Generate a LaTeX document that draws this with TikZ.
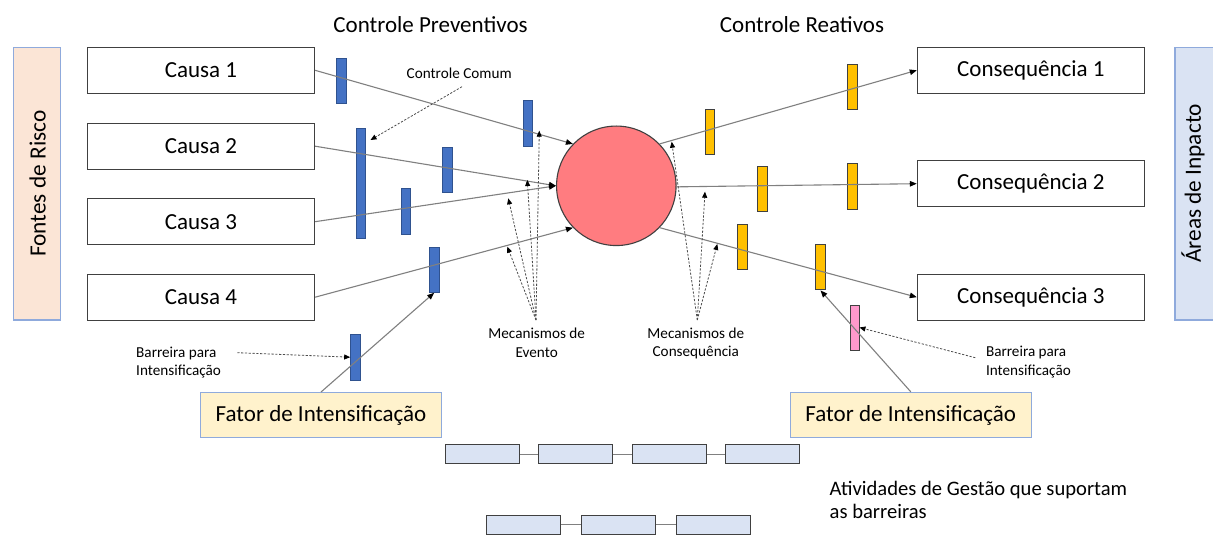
\documentclass[tikz,border=0pt]{standalone}
\usepackage{fontspec}
\setmainfont{Carlito}
\usetikzlibrary{arrows.meta,shapes.geometric}

\definecolor{boxline}{HTML}{404040}
\definecolor{conn}{HTML}{808080}
\definecolor{barblue}{HTML}{4472C4}
\definecolor{barblueline}{HTML}{2F528F}
\definecolor{baryellow}{HTML}{FFC000}
\definecolor{barpink}{HTML}{FF99CC}
\definecolor{eventred}{HTML}{FF7C80}
\definecolor{peach}{HTML}{FBE5D6}
\definecolor{paleblue}{HTML}{DAE3F3}
\definecolor{frameblue}{HTML}{8FAADC}
\definecolor{cream}{HTML}{FFF2CC}

\tikzset{
  fbox/.style={draw=boxline, line width=1.2pt, fill=white, minimum width=227pt,
    minimum height=46pt, inner sep=0pt, font=\fontsize{23}{27}\selectfont},
  bar/.style={rectangle, draw=#1line, line width=0.9pt, inner sep=0pt,
    minimum width=9.5pt, minimum height=45.5pt},
  bluebar/.style={bar=barblue, fill=barblue},
  yellowbar/.style={rectangle, draw=boxline, line width=0.9pt, inner sep=0pt,
    minimum width=9.5pt, minimum height=45.5pt, fill=baryellow},
  pinkbar/.style={rectangle, draw=boxline, line width=0.9pt, inner sep=0pt,
    minimum width=9pt, minimum height=45pt, fill=barpink},
  sidebox/.style={draw=frameblue, line width=1.1pt, inner sep=0pt},
  factor/.style={draw=frameblue, line width=1.1pt, fill=cream, inner sep=0pt,
    minimum width=240.7pt, minimum height=45.2pt, font=\fontsize{23}{28}\selectfont},
  mgmt/.style={draw=boxline, line width=1pt, fill=paleblue, inner sep=0pt,
    minimum width=74pt, minimum height=18.5pt},
  tip/.style={-{Triangle[length=7pt,width=5.5pt,color=black]}},
  link/.style={conn, line width=1.1pt, tip},
  plainlink/.style={conn, line width=1pt},
  pointer/.style={black!70, line width=0.8pt, dash pattern=on 2.2pt off 1.6pt,
    -{Triangle[length=6pt,width=5pt,color=black]}},
  small/.style={font=\fontsize{15.2}{18.5}\selectfont, inner sep=0pt},
  title/.style={font=\fontsize{23}{27}\selectfont, inner sep=0pt},
  band/.style={rotate=90, inner sep=0pt, font=\fontsize{23.3}{27}\selectfont},
}

\begin{document}
\begin{tikzpicture}[x=1pt,y=-1pt]
\useasboundingbox[fill=white] (0,0) rectangle (1213,545);

% titles
\node[title] (tprev) at (430.5,25) {Controle Preventivos};
\node[title] (treac) at (802,25) {Controle Reativos};

% side bands
\node[sidebox, fill=peach, minimum width=47pt, minimum height=272.7pt] (fontes) at (36.8,183.7) {};
\node[band] (fontesT) at (37.5,183.7) {Fontes de Risco};
\fill[paleblue] (1175,47.3) rectangle (1213,320);
\draw[frameblue, line width=1.1pt] (1214,47.3) -- (1175,47.3) -- (1175,320) -- (1214,320);
\node[band] (areas) at (1193,183.5) {Áreas de Inpacto};

% causes and consequences
\node[fbox] (c1) at (201,70.3) {Causa 1};
\node[fbox] (c2) at (201,146.2) {Causa 2};
\node[fbox] (c3) at (201,221.7) {Causa 3};
\node[fbox] (c4) at (201,297.2) {Causa 4};
\node[fbox] (q1) at (1030.9,70.3) {Consequência 1};
\node[fbox] (q2) at (1030.9,183.7) {Consequência 2};
\node[fbox] (q3) at (1030.9,297.2) {Consequência 3};

% top event
\node[circle, draw=boxline, line width=1.1pt, fill=eventred, minimum size=119.5pt, inner sep=0pt] (ev) at (616.3,185.8) {};

% preventive barriers
\node[bluebar, minimum height=45pt] (b1) at (341.5,80.8) {};
\node[bluebar, minimum height=109.3pt] (bc) at (360.7,183.6) {};
\node[bluebar] (b2) at (447.5,170) {};
\node[bluebar] (b3) at (405.8,211.7) {};
\node[bluebar] (b5) at (527.8,123.3) {};
\node[bluebar, minimum height=45pt] (b4) at (434.2,269.8) {};
\node[bluebar, minimum height=45.7pt] (bi) at (355.4,357.2) {};

% reactive barriers
\node[yellowbar] (y1) at (710,132.2) {};
\node[yellowbar] (y2) at (852.2,87.2) {};
\node[yellowbar] (y3) at (762.5,188.8) {};
\node[yellowbar] (y4) at (852.2,186.7) {};
\node[yellowbar] (y5) at (742.2,247.2) {};
\node[yellowbar] (y6) at (820.5,267.2) {};
\node[pinkbar] (pk) at (854.5,327.5) {};

% escalation factors
\node[factor] (fl) at (321,415.2) {Fator de Intensificação};
\node[factor] (fr) at (910.8,415) {Fator de Intensificação};

% threat lines
\draw[link] (c1.east) -- (ev.136);
\draw[link] (c2.east) -- (ev.180);
\draw[link] (c3.east) -- (ev.180);
\draw[link] (c4.east) -- (ev.224);
% consequence lines
\draw[link] (ev.44) -- (q1.west);
\draw[link] (ev.359) -- (q2.west);
\draw[link] (ev.316) -- (q3.west);
% escalation lines
\draw[link] (fl.north) -- (b4.south);
\draw[link] (fr.north) -- (y6.south);

% labels
\node[small] (cc) at (459.2,73.3) {Controle Comum};
\coordinate (ccs) at (462,86.7);
\coordinate (cct) at (370.5,140);
\draw[pointer] (ccs) -- (cct);

\node[small, align=center] (mev) at (536.7,342.8) {Mecanismos de\\Evento};
\node[small, align=center] (mcq) at (695.8,343.3) {Mecanismos de\\Consequência};
\coordinate (me0) at (536,320);
\coordinate (me1) at (539.3,130.7);
\coordinate (me2) at (527.3,180);
\coordinate (me3) at (508.3,198.3);
\coordinate (me4) at (507.3,246.7);
\foreach \t in {me1,me2,me3,me4} \draw[pointer] (me0) -- (\t);
\coordinate (mc0) at (697.3,320);
\coordinate (mc1) at (671.7,141.7);
\coordinate (mc2) at (705,191.7);
\coordinate (mc3) at (717.3,244);
\foreach \t in {mc1,mc2,mc3} \draw[pointer] (mc0) -- (\t);

\node[small, align=left, anchor=west] (bl) at (136,362.5) {Barreira para\\Intensificação};
\coordinate (bls) at (237.3,352.7);
\draw[pointer] (bls) -- (bi.west);
\node[small, align=left, anchor=west] (br) at (985.8,362) {Barreira para\\Intensificação};
\coordinate (brs) at (975.3,357.7);
\draw[pointer] (brs) -- (pk.east);

% management activities
\node[mgmt] (m1) at (482.5,454.2) {};
\node[mgmt] (m2) at (575.4,454.2) {};
\node[mgmt] (m3) at (669.4,454.2) {};
\node[mgmt] (m4) at (762.9,454.2) {};
\draw[plainlink] (m1) -- (m2) (m2) -- (m3) (m3) -- (m4);
\node[mgmt, minimum height=18.8pt] (n1) at (523,524.9) {};
\node[mgmt, minimum height=18.8pt] (n2) at (618,524.9) {};
\node[mgmt, minimum height=18.8pt] (n3) at (713.4,524.9) {};
\draw[plainlink] (n1) -- (n2) (n2) -- (n3);
\node[align=left, anchor=west, inner sep=0pt, font=\fontsize{20.6}{23}\selectfont] (act) at (829.5,499.7) {Atividades de Gestão que suportam\\as barreiras};
\end{tikzpicture}
\end{document}
